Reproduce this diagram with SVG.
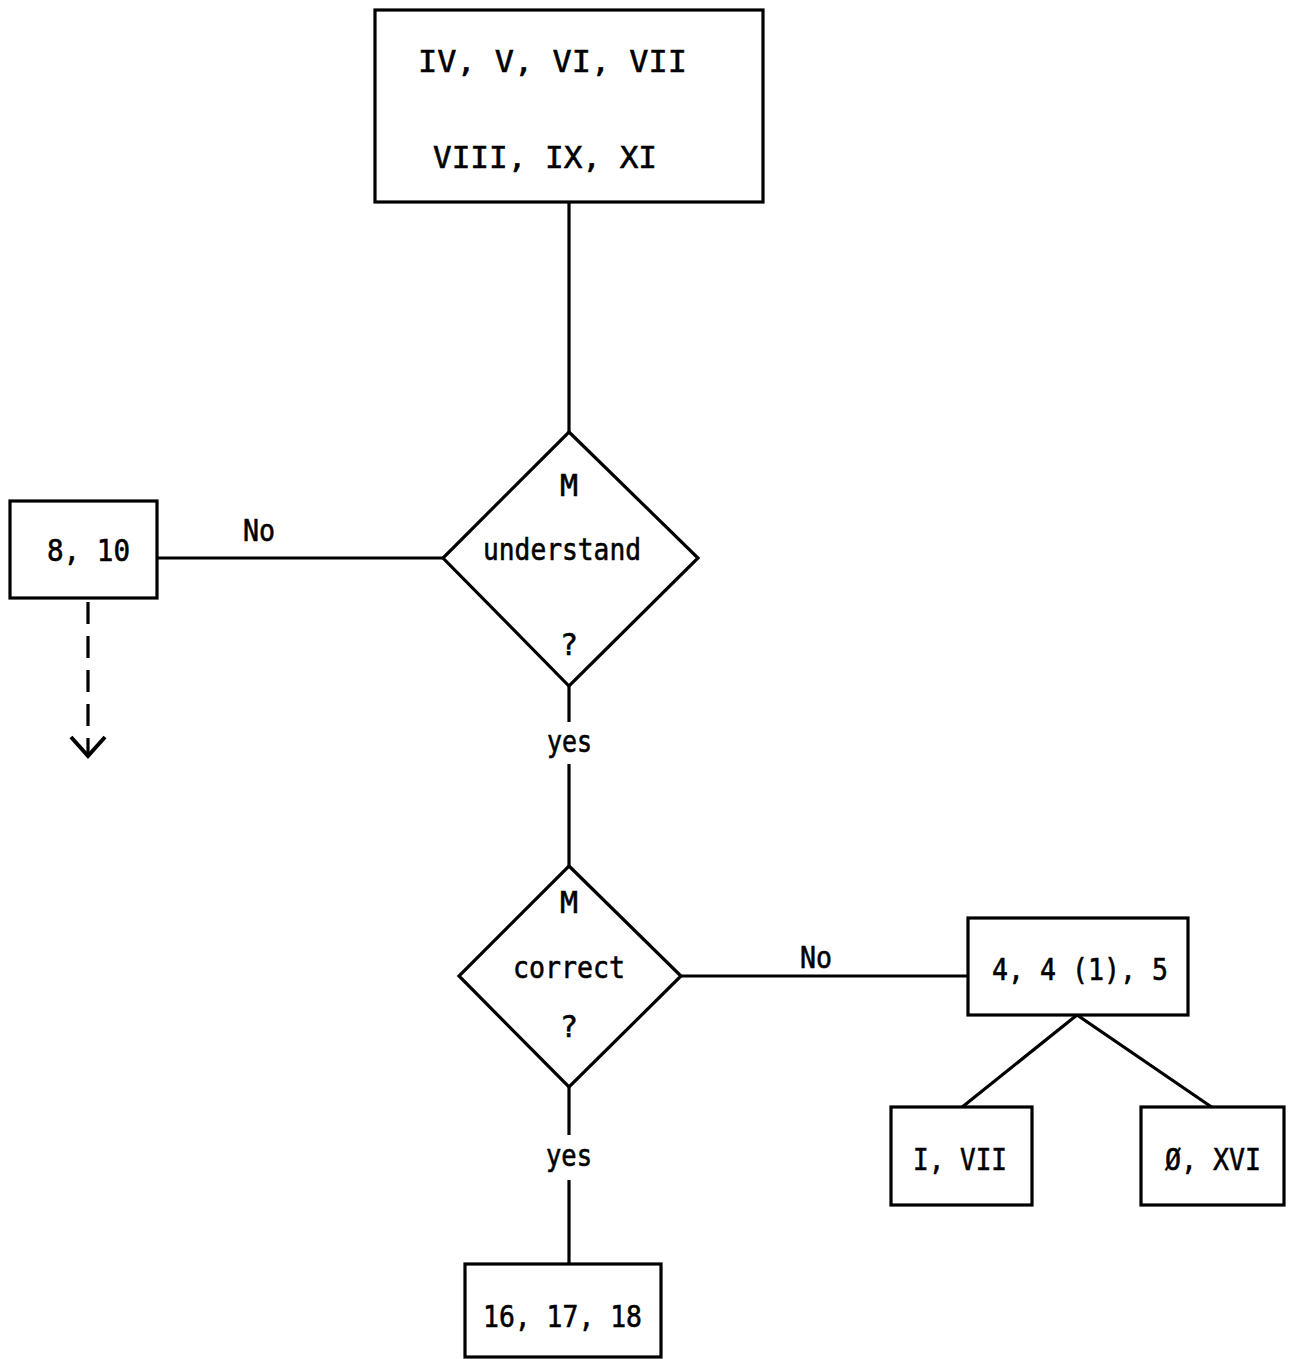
<svg xmlns="http://www.w3.org/2000/svg" width="1292" height="1359" viewBox="0 0 1292 1359">
<defs>
<style>
.box{fill:#fff;stroke:#000;stroke-width:3.2}
.ln{fill:none;stroke:#000;stroke-width:3.2}
.t{font-family:"DejaVu Sans Mono","Liberation Mono",monospace;font-size:30px;fill:#000;stroke:#000;stroke-width:0.6}
.c{text-anchor:middle}
</style>
<marker id="arr" viewBox="0 0 24 38" refX="21" refY="19" markerWidth="24" markerHeight="38" markerUnits="userSpaceOnUse" orient="auto">
<path d="M2,2 L21,19 L2,36" fill="none" stroke="#000" stroke-width="4"/>
</marker>
</defs>
<rect width="1292" height="1359" fill="#fff"/>
<g id="connectors">
<line class="ln" x1="569" y1="202" x2="569" y2="432"/>
<line class="ln" x1="157" y1="558" x2="443" y2="558"/>
<line class="ln" x1="88" y1="602" x2="88" y2="756" stroke-width="4.5" stroke-dasharray="22,12" marker-end="url(#arr)"/>
<line class="ln" x1="569" y1="686" x2="569" y2="722"/>
<line class="ln" x1="569" y1="764" x2="569" y2="866"/>
<line class="ln" x1="681" y1="976" x2="968" y2="976"/>
<line class="ln" x1="1077" y1="1015" x2="961" y2="1108"/>
<line class="ln" x1="1077" y1="1015" x2="1213" y2="1108"/>
<line class="ln" x1="569" y1="1087" x2="569" y2="1135"/>
<line class="ln" x1="569" y1="1180" x2="569" y2="1264"/>
<text class="t" x="243" y="541" textLength="32" lengthAdjust="spacingAndGlyphs">No</text>
<text class="t" x="547" y="752" textLength="45" lengthAdjust="spacingAndGlyphs">yes</text>
<text class="t" x="800" y="968" textLength="32" lengthAdjust="spacingAndGlyphs">No</text>
<text class="t" x="546" y="1166" textLength="46" lengthAdjust="spacingAndGlyphs">yes</text>
</g>
<g id="top">
<rect class="box" x="375" y="10" width="388" height="192"/>
<text class="t" x="418" y="72" font-size="32" textLength="269" lengthAdjust="spacingAndGlyphs">IV,  V,  VI,  VII</text>
<text class="t" x="433" y="168" font-size="32" textLength="224" lengthAdjust="spacingAndGlyphs">VIII,  IX,  XI</text>
</g>
<g id="understand">
<polygon class="box" points="569,432 698,558 569,686 443,558"/>
<text class="t c" x="569" y="496">M</text>
<text class="t" x="483" y="560" textLength="158" lengthAdjust="spacingAndGlyphs">understand</text>
<text class="t c" x="569" y="655">?</text>
</g>
<g id="n810">
<rect class="box" x="10" y="501" width="147" height="97"/>
<text class="t" x="47" y="561" textLength="83" lengthAdjust="spacingAndGlyphs">8, 10</text>
</g>
<g id="correct">
<polygon class="box" points="569,866 681,976 569,1087 459,976"/>
<text class="t c" x="569" y="913">M</text>
<text class="t" x="513" y="978" textLength="112" lengthAdjust="spacingAndGlyphs">correct</text>
<text class="t c" x="569" y="1037">?</text>
</g>
<g id="n445">
<rect class="box" x="968" y="918" width="220" height="97"/>
<text class="t" x="992" y="980" textLength="176" lengthAdjust="spacingAndGlyphs">4, 4 (1), 5</text>
</g>
<g id="nIVII">
<rect class="box" x="891" y="1107" width="141" height="98"/>
<text class="t" x="913" y="1170" textLength="94" lengthAdjust="spacingAndGlyphs">I, VII</text>
</g>
<g id="nXVI">
<rect class="box" x="1141" y="1107" width="143" height="98"/>
<text class="t" x="1165" y="1170" textLength="96" lengthAdjust="spacingAndGlyphs">Ø, XVI</text>
</g>
<g id="n161718">
<rect class="box" x="465" y="1264" width="196" height="93"/>
<text class="t" x="483" y="1327" textLength="159" lengthAdjust="spacingAndGlyphs">16, 17, 18</text>
</g>
</svg>
